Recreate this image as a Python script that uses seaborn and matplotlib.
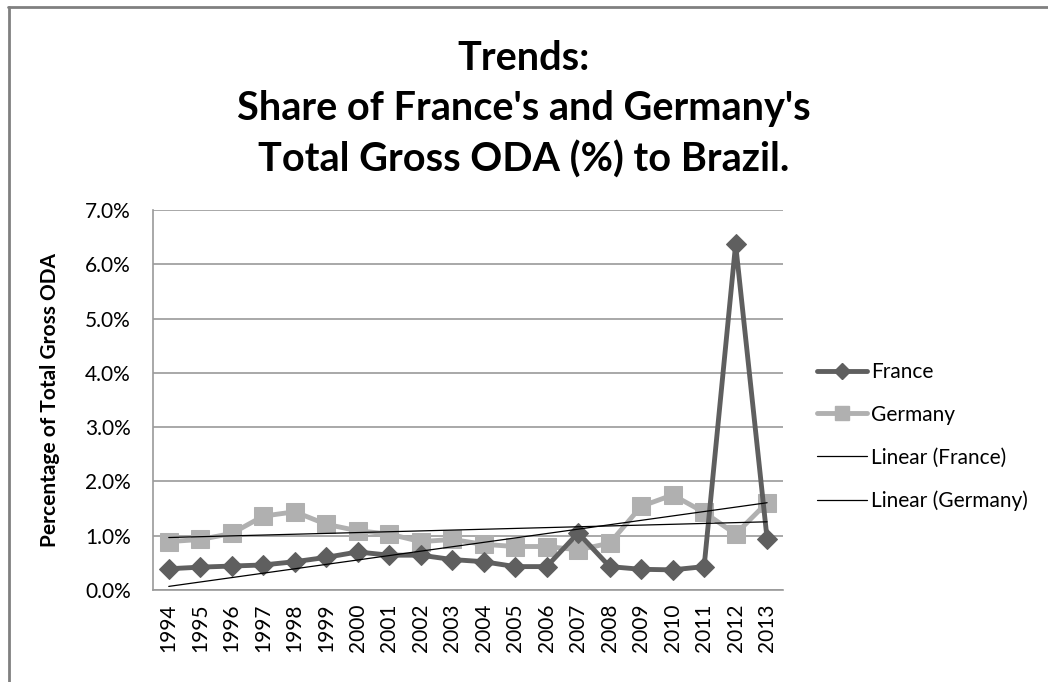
import numpy as np
import pandas as pd
import matplotlib.pyplot as plt
import seaborn as sns
from matplotlib.lines import Line2D

years = list(range(1994, 2014))
france = [0.39, 0.42, 0.44, 0.46, 0.52, 0.60, 0.70, 0.64, 0.64, 0.56,
          0.52, 0.43, 0.43, 1.05, 0.43, 0.38, 0.37, 0.43, 6.37, 0.94]
germany = [0.89, 0.93, 1.04, 1.36, 1.44, 1.21, 1.09, 1.03, 0.89, 0.93,
           0.84, 0.80, 0.80, 0.74, 0.86, 1.54, 1.75, 1.43, 1.03, 1.61]
y_ticks = [0, 1, 2, 3, 4, 5, 6, 7]

df = pd.DataFrame({"Year": years, "France": france, "Germany": germany})
df["pos"] = np.arange(len(years))

sns.set_style("white")
plt.rcParams["font.family"] = ["Lato", "DejaVu Sans"]
plt.rcParams["text.color"] = "black"
plt.rcParams["xtick.color"] = "black"
plt.rcParams["ytick.color"] = "black"
plt.rcParams["axes.labelcolor"] = "black"

fig = plt.figure(figsize=(10.48, 6.82), dpi=100)
ax = fig.add_axes([0.146, 0.135, 0.601, 0.557])

dark = "#5f5f5f"
light = "#b0b0b0"

sns.lineplot(data=df, x="pos", y="France", ax=ax, color=dark, lw=3.5,
             marker="D", markersize=10, markeredgecolor=dark, zorder=4)
sns.lineplot(data=df, x="pos", y="Germany", ax=ax, color=light, lw=3.5,
             marker="s", markersize=13, markeredgecolor=light, zorder=3)

# linear trend lines
x = df["pos"].values
for col in ["France", "Germany"]:
    k, b = np.polyfit(x, df[col].values, 1)
    ax.plot(x, k * x + b, color="black", lw=0.9, zorder=5)

ax.set_xlim(-0.5, len(years) - 0.5)
ax.set_ylim(0, 7)
ax.set_yticks(y_ticks)
ax.set_yticklabels([f"{v:.1f}%" for v in y_ticks], fontsize=15)
ax.set_xticks(x)
ax.set_xticklabels([str(y) for y in years], rotation=90, fontsize=15)
ax.tick_params(axis="y", length=0, pad=16)
ax.tick_params(axis="x", length=0, pad=10)
ax.grid(axis="y", color="#9a9a9a", lw=1.2)
ax.set_axisbelow(True)
for s in ["top", "right"]:
    ax.spines[s].set_visible(False)
for s in ["left", "bottom"]:
    ax.spines[s].set_color("#9a9a9a")
    ax.spines[s].set_linewidth(1.2)
ax.set_xlabel("")
ax.set_ylabel("Percentage of Total Gross ODA", fontsize=15, fontweight="bold",
              labelpad=18)

fig.text(0.5, 0.942, "Trends:\nShare of France's and Germany's\nTotal Gross ODA (%) to Brazil.",
         ha="center", va="top", fontsize=28.5, fontweight="bold", linespacing=1.44)

handles = [
    Line2D([], [], color=dark, lw=3.5, marker="D", markersize=8),
    Line2D([], [], color=light, lw=3.5, marker="s", markersize=10),
    Line2D([], [], color="black", lw=0.9),
    Line2D([], [], color="black", lw=0.9),
]
labels = ["France", "Germany", "Linear (France)", "Linear (Germany)"]
fig.legend(handles, labels, loc="center left", bbox_to_anchor=(0.762, 0.36),
           frameon=False, fontsize=15, handlelength=2.4, handletextpad=0.2,
           labelspacing=1.1)

# outer chart frame (left and top edges)
fig.add_artist(Line2D([0.009, 0.009], [0, 0.99], color="#808080", lw=2,
                      transform=fig.transFigure))
fig.add_artist(Line2D([0.008, 1.0], [0.99, 0.99], color="#808080", lw=2,
                      transform=fig.transFigure))

fig.savefig("out.png", dpi=100)
